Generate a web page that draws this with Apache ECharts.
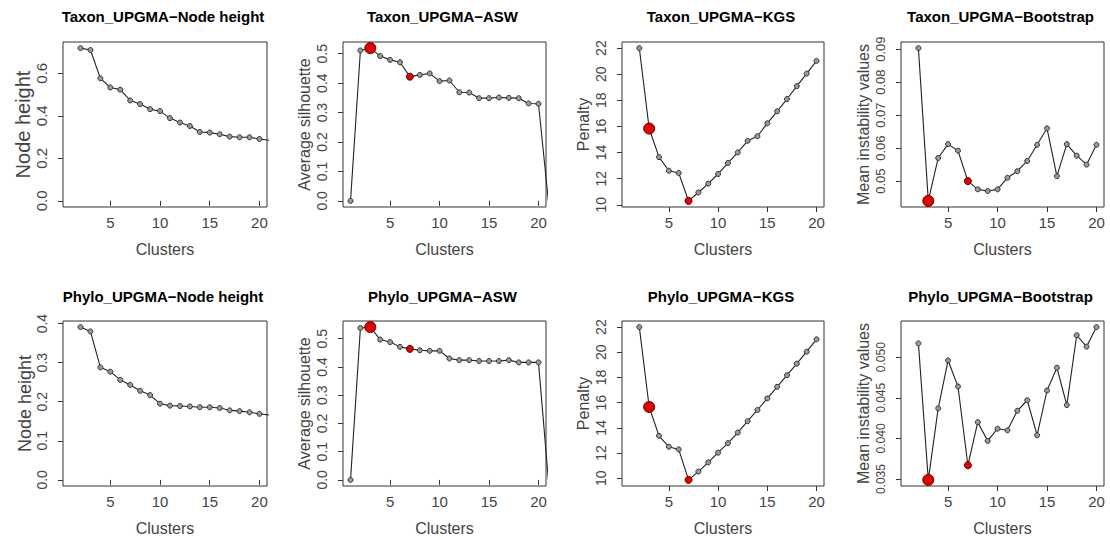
<!DOCTYPE html>
<html><head><meta charset="utf-8">
<script src="https://cdn.jsdelivr.net/npm/echarts@6/dist/echarts.min.js"></script>
<style>html,body{margin:0;padding:0;background:#fff}#c{width:1110px;height:540px}</style>
</head><body><div id="c"></div>
<script>
// ---- data ----
const clusters2to21 = [2,3,4,5,6,7,8,9,10,11,12,13,14,15,16,17,18,19,20,21];
const clusters1to21 = [1,2,3,4,5,6,7,8,9,10,11,12,13,14,15,16,17,18,19,20,21];
const clusters2to20 = [2,3,4,5,6,7,8,9,10,11,12,13,14,15,16,17,18,19,20];

const taxonNodeHeight = [0.718,0.709,0.576,0.533,0.523,0.472,0.455,0.431,0.422,0.389,0.368,0.352,0.324,0.321,0.313,0.302,0.299,0.299,0.291,0.285];
const taxonASW = [0,0.511,0.519,0.492,0.479,0.471,0.422,0.428,0.433,0.407,0.409,0.369,0.368,0.349,0.349,0.351,0.350,0.349,0.331,0.330,0];
const taxonKGS = [22,15.84,13.65,12.61,12.44,10.30,10.94,11.62,12.36,13.2,14.01,14.9,15.25,16.24,17.16,18.1,19.09,20.05,21.02];
const taxonBoot = [0.0903,0.0440,0.0570,0.0612,0.0592,0.0500,0.0475,0.0470,0.0475,0.0510,0.0530,0.0561,0.0610,0.0660,0.0515,0.0612,0.0577,0.0550,0.0610];

const phyloNodeHeight = [0.391,0.380,0.288,0.277,0.256,0.243,0.228,0.217,0.195,0.190,0.189,0.188,0.186,0.186,0.184,0.178,0.176,0.173,0.169,0.166];
const phyloASW = [0,0.538,0.541,0.497,0.488,0.471,0.464,0.459,0.457,0.457,0.430,0.424,0.424,0.421,0.421,0.421,0.424,0.416,0.416,0.416,0];
const phyloKGS = [22,15.66,13.37,12.5,12.29,9.87,10.53,11.26,12.03,12.79,13.63,14.53,15.42,16.34,17.26,18.18,19.1,20.05,21.03];
const phyloBoot = [0.0517,0.0349,0.0437,0.0496,0.0464,0.0367,0.0420,0.0397,0.0412,0.0410,0.0434,0.0447,0.0404,0.0459,0.0487,0.0441,0.0527,0.0513,0.0537];

const bestCluster = 3;
const secondCluster = 7;

const xTicks = [5,10,15,20];
const taxonNHTicks = [0,0.2,0.4,0.6];
const aswTicks = [0,0.1,0.2,0.3,0.4,0.5];
const kgsTicks = [10,12,14,16,18,20,22];
const taxonBootTicks = [0.05,0.06,0.07,0.08,0.09];
const phyloNHTicks = [0,0.1,0.2,0.3,0.4];
const phyloBootTicks = [0.035,0.040,0.045,0.050];

const titles = ['Taxon_UPGMA\u2212Node height','Taxon_UPGMA\u2212ASW','Taxon_UPGMA\u2212KGS','Taxon_UPGMA\u2212Bootstrap',
                'Phylo_UPGMA\u2212Node height','Phylo_UPGMA\u2212ASW','Phylo_UPGMA\u2212KGS','Phylo_UPGMA\u2212Bootstrap'];
const yNames = ['Node height','Average silhouette','Penalty','Mean instability values',
                'Node height','Average silhouette','Penalty','Mean instability values'];
const xName = 'Clusters';

// ---- panels ----
const panels = [
  {x:clusters2to21, y:taxonNodeHeight, ticks:taxonNHTicks, dec:1, zero:true, mark:false, nameSize:20, tickSize:15, nameGap:28},
  {x:clusters1to21, y:taxonASW, ticks:aswTicks, dec:1, zero:true, mark:true, nameSize:16, tickSize:14, nameGap:31},
  {x:clusters2to20, y:taxonKGS, ticks:kgsTicks, dec:0, zero:false, mark:true, nameSize:16, tickSize:14, nameGap:31},
  {x:clusters2to20, y:taxonBoot, ticks:taxonBootTicks, dec:2, zero:false, mark:true, nameSize:16, tickSize:13, nameGap:30},
  {x:clusters2to21, y:phyloNodeHeight, ticks:phyloNHTicks, dec:1, zero:true, mark:false, nameSize:18, tickSize:14, nameGap:29},
  {x:clusters1to21, y:phyloASW, ticks:aswTicks, dec:1, zero:true, mark:true, nameSize:16, tickSize:14, nameGap:31},
  {x:clusters2to20, y:phyloKGS, ticks:kgsTicks, dec:0, zero:false, mark:true, nameSize:16, tickSize:14, nameGap:31},
  {x:clusters2to20, y:phyloBoot, ticks:phyloBootTicks, dec:3, zero:false, mark:true, nameSize:16, tickSize:12, nameGap:30}
];

const colLeft = [63,343,622,901], colW = [204,203,202,203];
const rowTop = [42,321], rowH = 165;
const titleTop = [9,289];
const FONT = 'Liberation Sans';
const TXT = '#444';
const xMin = 1 - 0.04*19, xMax = 20 + 0.04*19;

const option = {animation:false, backgroundColor:'#fff', title:[], grid:[], xAxis:[], yAxis:[], series:[]};

panels.forEach((p,i)=>{
  const r = Math.floor(i/4), c = i%4;
  // R-style 4% extended y range, computed from visible points
  const vis = p.y.filter((v,k)=>p.x[k]>=1 && p.x[k]<=20);
  let lo = Math.min(...vis), hi = Math.max(...vis);
  if (p.zero) lo = Math.min(lo,0);
  const pad = (hi-lo)*0.04;
  lo -= pad; hi += pad;

  option.title.push({text:titles[i], left: colLeft[c]+colW[c]/2 - 2, top:titleTop[r], textAlign:'center', padding:0,
    textStyle:{fontFamily:FONT, fontWeight:'bold', fontSize:15, color:'#000'}});
  option.grid.push({left:colLeft[c], top:rowTop[r], width:colW[c], height:rowH, show:true,
    borderColor:'#333', borderWidth:1, backgroundColor:'transparent'});
  option.xAxis.push({gridIndex:i, type:'value', min:xMin, max:xMax,
    axisLine:{show:false}, splitLine:{show:false},
    axisTick:{show:true, length:5, customValues:xTicks, lineStyle:{color:'#333'}},
    axisLabel:{customValues:xTicks, margin:8, color:TXT, fontSize:15, fontFamily:FONT},
    name:xName, nameLocation:'middle', nameGap:34,
    nameTextStyle:{color:TXT, fontSize:16, fontFamily:FONT}});
  option.yAxis.push({gridIndex:i, type:'value', min:lo, max:hi,
    axisLine:{show:false}, splitLine:{show:false},
    axisTick:{show:true, length:5, customValues:p.ticks, lineStyle:{color:'#333'}},
    axisLabel:{customValues:p.ticks, rotate:90, margin:14, color:TXT, fontSize:p.tickSize, fontFamily:FONT,
      formatter:(v)=>Number(v).toFixed(p.dec)},
    name:yNames[i], nameLocation:'middle', nameGap:p.nameGap,
    nameTextStyle:{color:TXT, fontSize:p.nameSize, fontFamily:FONT}});
  option.series.push({type:'line', xAxisIndex:i, yAxisIndex:i, clip:true,
    data:p.x.map((xv,k)=>[xv,p.y[k]]),
    symbol:'circle', symbolSize:5, showAllSymbol:true,
    lineStyle:{color:'#222', width:1.1},
    itemStyle:{color:'#9a9a9a', borderColor:'#333', borderWidth:1}, z:2});
  if (p.mark) {
    const kb = p.x.indexOf(bestCluster), ks = p.x.indexOf(secondCluster);
    option.series.push({type:'scatter', xAxisIndex:i, yAxisIndex:i,
      data:[
        {value:[bestCluster,p.y[kb]], symbolSize:11},
        {value:[secondCluster,p.y[ks]], symbolSize:7}
      ],
      itemStyle:{color:'#e60000', borderColor:'#5a0000', borderWidth:1, opacity:1}, z:3});
  }
});

const chart = echarts.init(document.getElementById('c'), null, {renderer:'svg'});
chart.setOption(option);
</script></body></html>
